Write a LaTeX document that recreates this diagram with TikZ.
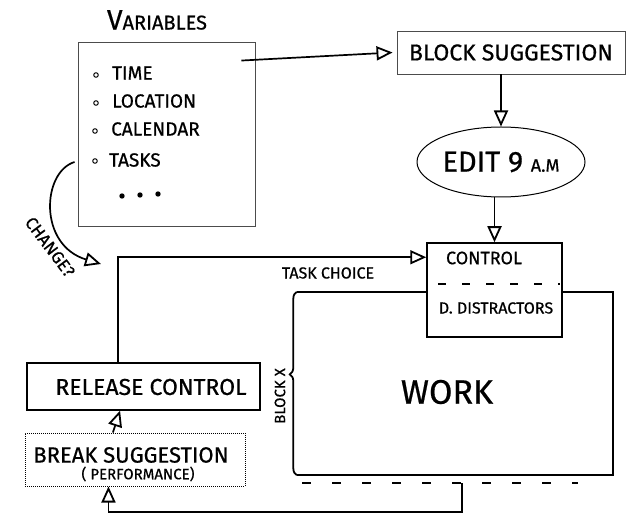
\documentclass[tikz,border=0pt]{standalone}
\usepackage{fontspec}
\setmainfont{Fira Sans}[FakeBold=0.6]
\usetikzlibrary{arrows.meta,shapes.geometric,decorations.pathreplacing,calc}
\begin{document}
\begin{tikzpicture}[x=1pt,y=-1pt,
  arr/.style={line width=1.7pt, -{Triangle[open,length=16pt,width=14pt,line width=1.8pt]}},
  thinbox/.style={draw=black!70, line width=0.9pt, inner sep=0pt},
  item/.style={inner sep=0pt, anchor=west, font=\fontsize{19}{22}\selectfont},
  bullet/.style={circle, draw, line width=1pt, inner sep=1.6pt},
  dot/.style={circle, fill, inner sep=1.9pt},
  edge/.style={line width=1.8pt},
  small/.style={inner sep=0pt, font=\fontsize{12}{14}\selectfont}
]
\useasboundingbox (0,0) rectangle (626,518);

% Variables
\node[inner sep=0pt] (vartitle) at (157,20) {{\fontsize{28}{30}\selectfont V}{\fontsize{20}{22}\selectfont ARIABLES}};
\node[thinbox, minimum width=177, minimum height=184] (vars) at (166.5,134) {};
\node[bullet] (b1) at (96,75) {};
\node[item] (t1) at (112,73) {TIME};
\node[bullet] (b2) at (96,103) {};
\node[item] (t2) at (112,101) {LOCATION};
\node[bullet] (b3) at (95,131) {};
\node[item] (t3) at (111,129) {CALENDAR};
\node[bullet] (b4) at (95,161) {};
\node[item] (t4) at (109,160) {TASKS};
\node[dot] (d1) at (122,196) {};
\node[dot] (d2) at (140,195) {};
\node[dot] (d3) at (158,194) {};

% Block suggestion
\node[thinbox, minimum width=228, minimum height=43, font=\fontsize{23}{25}\selectfont] (block) at (511,52.5) {BLOCK SUGGESTION};

% Edit ellipse
\node[ellipse, draw, line width=1pt, minimum width=168, minimum height=70, inner sep=0pt] (edit) at (501,162) {{\fontsize{29}{31}\selectfont EDIT 9 }{\fontsize{18}{20}\selectfont A.M}};

% Control box
\node[draw, line width=1.5pt, minimum width=135, minimum height=94, inner sep=0pt] (control) at (494.5,290) {};
\node[small, font=\fontsize{18}{20}\selectfont] (ctrltxt) at (484,258) {CONTROL};
\node[small, font=\fontsize{16}{18}\selectfont] (distr) at (496,308) {D. DISTRACTORS};
\draw[edge, dash pattern=on 8pt off 16pt] (438,284) -- (560,284);

% Work
\node[minimum width=316, minimum height=183, inner sep=0pt] (work) at (455,383.5) {};
\node[inner sep=0pt, font=\fontsize{34}{36}\selectfont] (worklbl) at (447,392) {WORK};
\draw[edge] (control.west |- work.north) -- (work.north west);
\draw[edge] (control.east |- work.north) -- (work.north east) -- (work.south east) -- (work.south west);
\draw[edge, decorate, decoration={brace, amplitude=7pt, aspect=0.55}] (work.south west) -- (work.north west);
\node[small, rotate=90, font=\fontsize{15}{17}\selectfont] (blockx) at (280,396) {BLOCK X};
\node[small, font=\fontsize{16}{18}\selectfont] (taskchoice) at (328,273) {TASK CHOICE};
\draw[edge, dash pattern=on 9pt off 21pt] (302,483) -- (578,483);
\coordinate (fb) at (462,483);

% Release control & break suggestion
\node[draw, line width=1.3pt, minimum width=233, minimum height=47, inner sep=0pt] (rel) at (143.5,386.5) {};
\node[inner sep=0pt, font=\fontsize{23}{25}\selectfont] (reltxt) at (151,387) {RELEASE CONTROL};
\node[draw, densely dotted, line width=1pt, minimum width=220, minimum height=53, inner sep=0pt] (brk) at (135,459.5) {};
\node[inner sep=0pt, font=\fontsize{22}{24}\selectfont] (brktxt) at (131,455) {BREAK SUGGESTION};
\node[inner sep=0pt, font=\fontsize{15}{17}\selectfont] (perftxt) at (138,474) {( PERFORMANCE)};

% Connectors
\draw[arr] ($(vars.north east)+(-14,19)$) -- ($(block.west)+(-4,0)$);
\draw[arr] (block.south -| edit.north) -- (edit.north);
\draw[arr] (edit.south -| control.north) -- (control.north);
\draw[arr] ($(rel.north west)!0.39!(rel.north east)$) |- ($(control.north west)+(0,15)$);
\draw[arr] ($(brk.north west)!0.40!(brk.north east)$) -- ($(rel.south west)!0.40!(rel.south east)$);
\draw[arr] (fb) -- ++(0,29) -| ($(brk.south west)!0.38!(brk.south east)$);
\coordinate (chstart) at ($(vars.west)+(-3,28)$);
\coordinate (chend) at (101,264);
\draw[arr] (chstart) .. controls (42,172) and (38,245) .. (chend);
\node[small, rotate=-53, font=\fontsize{17}{19}\selectfont] (change) at (50,247) {CHANGE?};
\end{tikzpicture}
\end{document}
